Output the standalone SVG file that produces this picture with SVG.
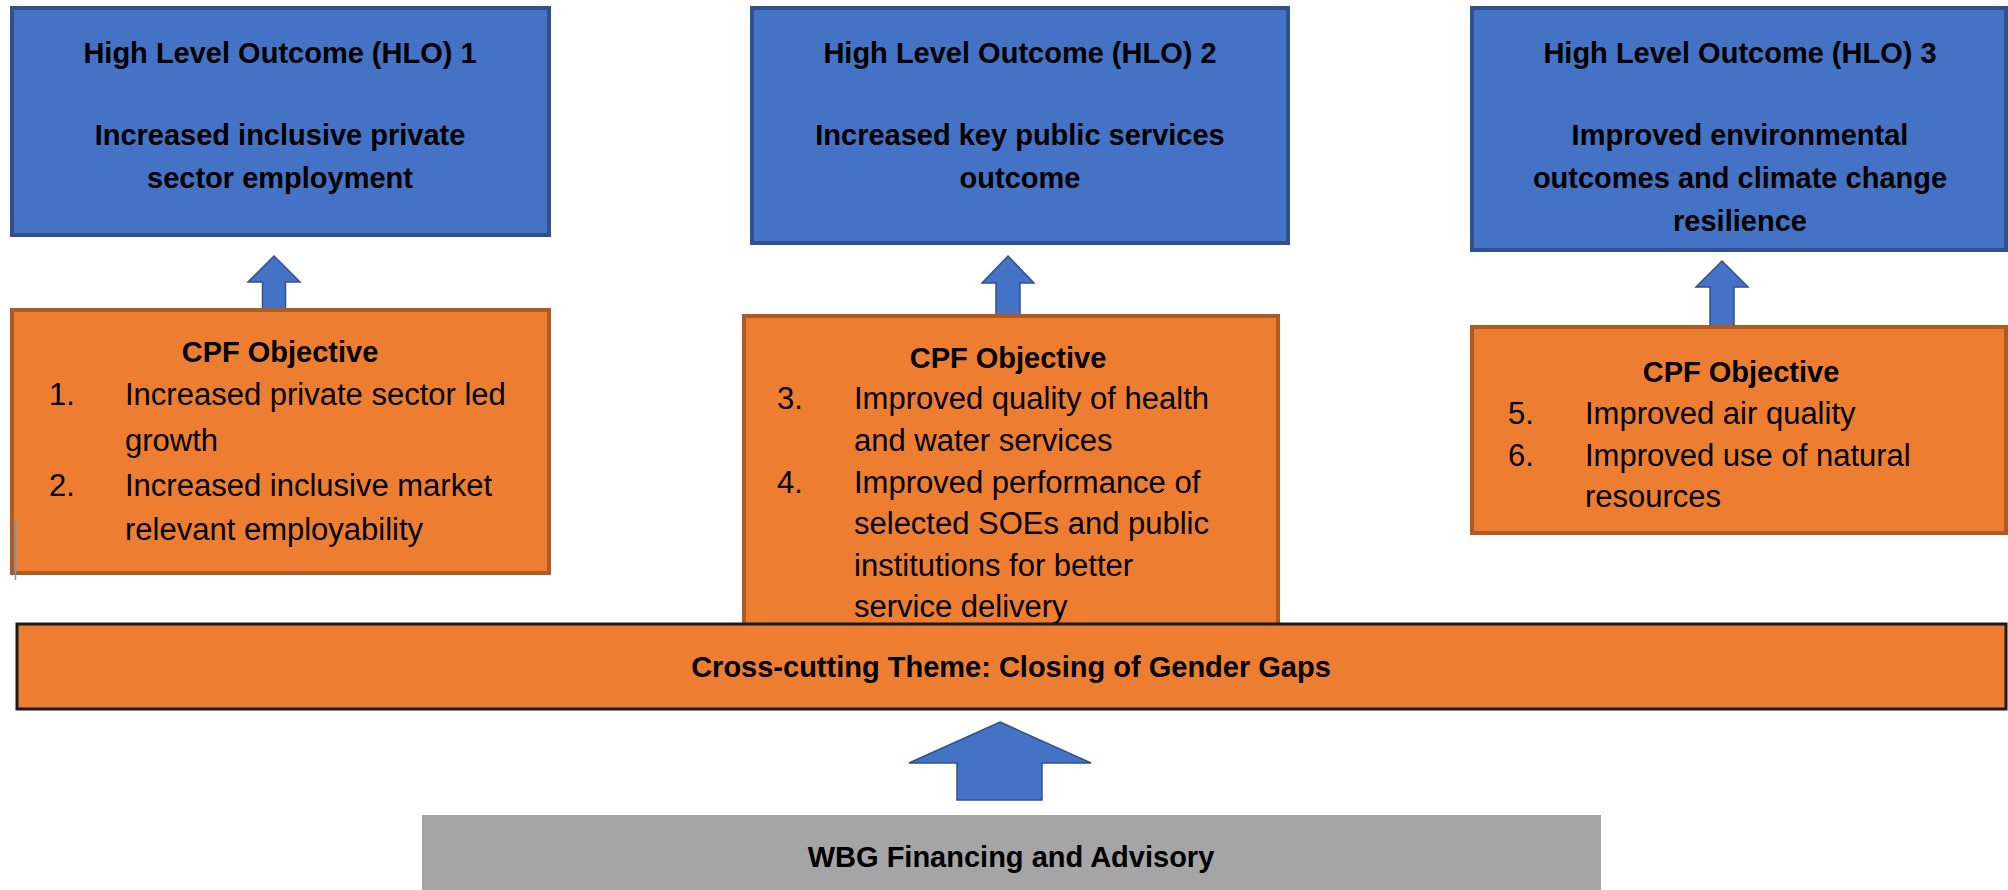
<svg xmlns="http://www.w3.org/2000/svg" width="2008" height="890" viewBox="0 0 2008 890">
<style>
.hlo{fill:#4472C4;stroke:#2F528F;stroke-width:4}
.cpf{fill:#ED7D31;stroke:#AE5A21;stroke-width:4}
.bar{fill:#ED7D31;stroke:#1a1a1a;stroke-width:3}
.wbg{fill:#A5A5A5}
.arr{fill:#4472C4;stroke:#2F528F;stroke-width:1.5}
.b{font-family:"Liberation Sans",Arial,sans-serif;font-weight:bold;font-size:29px;fill:#000;text-anchor:middle}
.r{font-family:"Liberation Sans",Arial,sans-serif;font-size:31px;fill:#000}
</style>
<rect width="2008" height="890" fill="#fff"/>
<g id="connectors">
<polygon class="arr" points="274,256 300,282 285.5,282 285.5,311 262.5,311 262.5,282 248,282"/>
<polygon class="arr" points="1008,256 1034,283 1020,283 1020,316 996,316 996,283 982,283"/>
<polygon class="arr" points="1722,261 1748,287 1734,287 1734,327 1710,327 1710,287 1696,287"/>
<polygon class="arr" points="1000,722 1091,763 1042,763 1042,800 957,800 957,763 909,763"/>
</g>
<g id="hlo1">
<rect class="hlo" x="12" y="8" width="537" height="227"/>
<text class="b" x="280" y="63">High Level Outcome (HLO) 1</text>
<text class="b" x="280" y="145">Increased inclusive private</text>
<text class="b" x="280" y="188">sector employment</text>
</g>
<g id="hlo2">
<rect class="hlo" x="752" y="8" width="536" height="235"/>
<text class="b" x="1020" y="63">High Level Outcome (HLO) 2</text>
<text class="b" x="1020" y="145">Increased key public services</text>
<text class="b" x="1020" y="188">outcome</text>
</g>
<g id="hlo3">
<rect class="hlo" x="1472" y="8" width="534" height="242"/>
<text class="b" x="1740" y="63">High Level Outcome (HLO) 3</text>
<text class="b" x="1740" y="145">Improved environmental</text>
<text class="b" x="1740" y="188">outcomes and climate change</text>
<text class="b" x="1740" y="231">resilience</text>
</g>
<g id="cpf1">
<rect class="cpf" x="12" y="310" width="537" height="263"/>
<text class="b" x="280" y="362">CPF Objective</text>
<text class="r" x="49" y="405">1.</text>
<text class="r" x="125" y="405">Increased private sector led</text>
<text class="r" x="125" y="451">growth</text>
<text class="r" x="49" y="496">2.</text>
<text class="r" x="125" y="496">Increased inclusive market</text>
<text class="r" x="125" y="540">relevant employability</text>
<line x1="15.5" y1="520" x2="15.5" y2="580" stroke="#5B9BD5" stroke-width="1.5"/>
</g>
<g id="cpf2">
<rect class="cpf" x="744" y="316" width="534" height="320"/>
<text class="b" x="1008" y="368">CPF Objective</text>
<text class="r" x="777" y="409">3.</text>
<text class="r" x="854" y="409">Improved quality of health</text>
<text class="r" x="854" y="451">and water services</text>
<text class="r" x="777" y="493">4.</text>
<text class="r" x="854" y="493">Improved performance of</text>
<text class="r" x="854" y="534">selected SOEs and public</text>
<text class="r" x="854" y="576">institutions for better</text>
<text class="r" x="854" y="617">service delivery</text>
</g>
<g id="cpf3">
<rect class="cpf" x="1472" y="327" width="534" height="206"/>
<text class="b" x="1741" y="382">CPF Objective</text>
<text class="r" x="1508" y="424">5.</text>
<text class="r" x="1585" y="424">Improved air quality</text>
<text class="r" x="1508" y="466">6.</text>
<text class="r" x="1585" y="466">Improved use of natural</text>
<text class="r" x="1585" y="507">resources</text>
</g>
<g id="crosscutting">
<rect class="bar" x="17" y="624" width="1989" height="85"/>
<text class="b" x="1011" y="677">Cross-cutting Theme: Closing of Gender Gaps</text>
</g>
<g id="wbg">
<rect class="wbg" x="422" y="815" width="1179" height="80"/>
<text class="b" x="1011" y="867">WBG Financing and Advisory</text>
</g>
</svg>
